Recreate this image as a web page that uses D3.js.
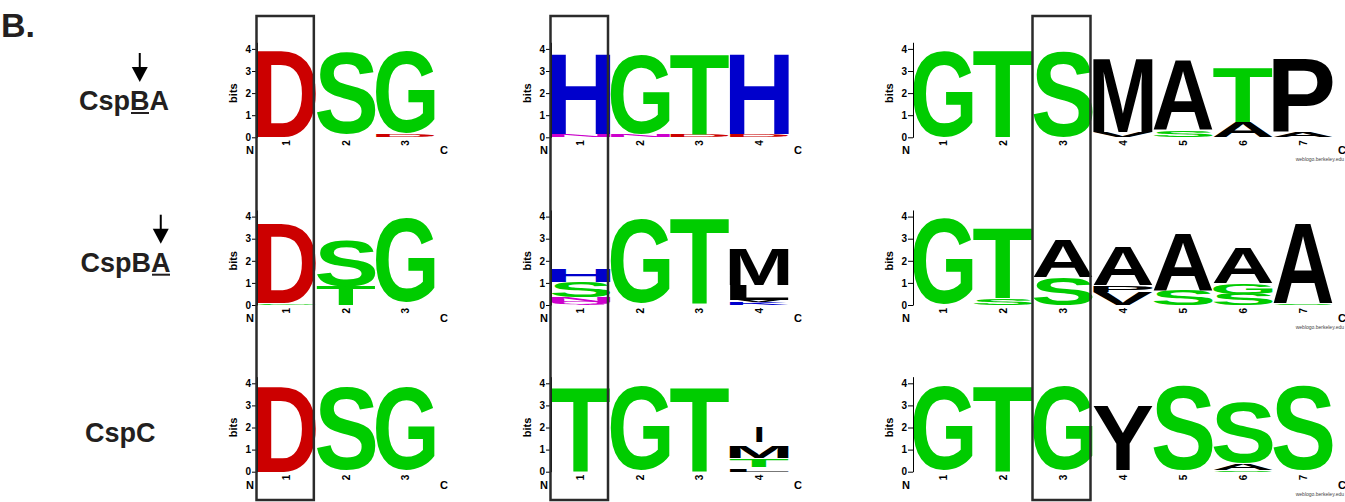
<!DOCTYPE html>
<html><head><meta charset="utf-8">
<script src="https://cdn.jsdelivr.net/npm/d3@7"></script>
<style>body{margin:0;background:#fff}svg{display:block}</style>
</head><body>
<svg id="chart" width="1345" height="502"></svg>
<script>
// ---------------- DATA ----------------
const panelLabel = "B.";
const rowNames = ["CspBA", "CspBA", "CspC"];
const underlinedChar = [3, 4, -1];      // index of underlined letter in row name
const arrowRows = [0, 1];
const bitTicks = [0, 1, 2, 3, 4];
const boxedPosition = [1, 1, 3];        // boxed position in each logo column
const creditText = "weblogo.berkeley.edu";

// stacks per position: [residue, bits], bottom -> top ("" = empty space)
const cspB_site1 = [
  [["D", 3.88]],
  [["", 0.15], ["S", 3.7]],
  [["D", 0.12], ["", 0.05], ["G", 3.68]]
];
const cspB_site2 = [
  [["N", 0.1], ["", 0.05], ["H", 3.6]],
  [["N", 0.1], ["", 0.05], ["G", 3.6]],
  [["D", 0.1], ["", 0.05], ["T", 3.6]],
  [["D", 0.1], ["", 0.05], ["H", 3.6]]
];
const cspB_site3 = [
  [["G", 3.88]],
  [["T", 3.88]],
  [["S", 3.88]],
  [["V", 0.25], ["M", 3.34]],
  [["S", 0.3], ["A", 3.12]],
  [["A", 0.7], ["T", 2.44]],
  [["A", 0.25], ["P", 3.34]]
];
const cspA_site1 = [
  [["G", 0.06], ["", 0.04], ["D", 3.58]],
  [["T", 0.85], ["S", 2.1]],
  [["", 0.12], ["G", 3.84]]
];
const cspA_site2 = [
  [["Q", 0.15], ["N", 0.22], ["S", 0.68], ["H", 0.6]],
  [["", 0.1], ["G", 3.8]],
  [["", 0.05], ["T", 3.85]],
  [["K", 0.12], ["V", 0.12], ["L", 0.66], ["M", 1.65]]
];
const cspA_site3 = [
  [["", 0.05], ["G", 3.85]],
  [["S", 0.3], ["T", 3.15]],
  [["S", 1.27], ["A", 1.66]],
  [["V", 0.6], ["P", 0.3], ["A", 1.72]],
  [["S", 0.68], ["A", 2.55]],
  [["S", 0.5], ["G", 0.48], ["A", 1.57]],
  [["S", 0.08], ["A", 3.6]]
];
const cspC_site1 = [
  [["D", 3.8]],
  [["", 0.05], ["S", 3.78]],
  [["", 0.05], ["G", 3.78]]
];
const cspC_site2 = [
  [["T", 3.8]],
  [["", 0.05], ["G", 3.8]],
  [["T", 3.8]],
  [["L", 0.08], ["", 0.14], ["T", 0.34], ["", 0.04], ["M", 0.53], ["", 0.2], ["I", 0.7]]
];
const cspC_site3 = [
  [["", 0.05], ["G", 3.8]],
  [["T", 3.85]],
  [["", 0.05], ["G", 3.8]],
  [["", 0.08], ["Y", 2.92]],
  [["", 0.05], ["S", 3.8]],
  [["S", 0.08], ["A", 0.3], ["S", 2.72]],
  [["", 0.05], ["S", 3.8]]
];
const logoRows = [
  [cspB_site1, cspB_site2, cspB_site3],
  [cspA_site1, cspA_site2, cspA_site3],
  [cspC_site1, cspC_site2, cspC_site3]
];

// ---------------- STYLE / LAYOUT ----------------
const residueColor = {
  D: "#cc0000", E: "#cc0000",
  G: "#00cc00", S: "#00cc00", T: "#00cc00", C: "#00cc00",
  N: "#cc00cc", Q: "#cc00cc",
  K: "#0000cc", R: "#0000cc", H: "#0000cc",
  A: "#000", V: "#000", L: "#000", I: "#000", P: "#000", W: "#000", F: "#000", M: "#000", Y: "#000"
};
const FONT = "'Liberation Sans', Arial, Helvetica, sans-serif";
const rowBase = [137.3, 305, 471.7];
const pxPerBit = 22.1;
const colRanges = [[257, 435], [551, 789], [913, 1333]];
const textColor = "#231f20";

const svg = d3.select("#chart");
svg.append("rect").attr("width", 1345).attr("height", 502).attr("fill", "#fff");

// glyph ink metrics
const cvs = document.createElement("canvas").getContext("2d");
const FS = 200;
cvs.font = `bold ${FS}px 'Liberation Sans'`;
const metricCache = {};
function metrics(ch) {
  if (!metricCache[ch]) {
    const m = cvs.measureText(ch);
    metricCache[ch] = {L: m.actualBoundingBoxLeft, R: m.actualBoundingBoxRight,
                       A: m.actualBoundingBoxAscent, D: m.actualBoundingBoxDescent};
  }
  return metricCache[ch];
}

// panel label
svg.append("text").attr("x", 1).attr("y", 36.5).attr("font-family", FONT)
  .attr("font-weight", "bold").attr("font-size", 34).attr("fill", textColor).text(panelLabel);

const nameBaseline = [110, 271.7, 441.7];
const nameX = [79, 80.5, 85];
rowNames.forEach((nm, r) => {
  const t = svg.append("text").attr("x", nameX[r]).attr("y", nameBaseline[r])
    .attr("font-family", FONT).attr("font-weight", "bold").attr("font-size", 27)
    .attr("fill", textColor).text(nm);
  const ui = underlinedChar[r];
  if (ui >= 0) {
    const ext = t.node().getExtentOfChar(ui);
    svg.append("line").attr("x1", ext.x + 1).attr("x2", ext.x + ext.width - 0.5)
      .attr("y1", nameBaseline[r] + 3).attr("y2", nameBaseline[r] + 3)
      .attr("stroke", textColor).attr("stroke-width", 2);
    if (arrowRows.includes(r)) {
      const cx = ext.x + ext.width / 2;
      const tip = nameBaseline[r] - 28;
      svg.append("line").attr("x1", cx).attr("x2", cx).attr("y1", tip - 29).attr("y2", tip - 6)
        .attr("stroke", "#000").attr("stroke-width", 2);
      svg.append("path").attr("d", `M${cx - 8},${tip - 15} L${cx + 8},${tip - 15} L${cx},${tip} Z`)
        .attr("fill", "#000");
    }
  }
});

logoRows.forEach((row, r) => {
  row.forEach((logo, c) => {
    const g = svg.append("g");
    const y0 = rowBase[r];
    const y = d3.scaleLinear().domain([0, 4]).range([y0, y0 - 4 * pxPerBit]);
    const yAxisScale = d3.scaleLinear().domain([0, 4.3]).range([y0, y0 - 4.3 * pxPerBit]);
    const x = d3.scaleBand().domain(d3.range(1, logo.length + 1)).range(colRanges[c]).padding(0);
    const bw = x.bandwidth();

    // letters
    logo.forEach((stack, i) => {
      let acc = 0;
      stack.forEach(([res, bits]) => {
        const bottom = acc, top = acc + bits;
        acc = top;
        if (!res) return;
        const yT = y(top), h = y(bottom) - y(top);
        const m = metrics(res);
        const w = res === "I" ? bw * 0.1 : bw - 0.6;
        const xL = x(i + 1) + (bw - w) / 2;
        const sx = w / (m.L + m.R), sy = h / (m.A + m.D);
        g.append("text")
          .attr("transform", `translate(${xL},${yT}) scale(${sx},${sy}) translate(${m.L},${m.A})`)
          .attr("font-family", "'Liberation Sans'").attr("font-weight", "bold").attr("font-size", FS)
          .attr("fill", residueColor[res]).text(res);
      });
    });

    // y axis
    const ax = g.append("g").attr("transform", `translate(${colRanges[c][0]},0)`)
      .call(d3.axisLeft(yAxisScale).tickValues(bitTicks).tickFormat(d3.format("d"))
        .tickSize(5).tickSizeOuter(0).tickPadding(1));
    ax.selectAll("path,line").attr("stroke", "#000").attr("stroke-width", 1);
    ax.selectAll("text").attr("font-family", FONT).attr("font-weight", "bold")
      .attr("font-size", 10).attr("fill", "#000");
    g.append("text").attr("transform", `translate(${colRanges[c][0] - 20},${y(2)}) rotate(-90)`)
      .attr("text-anchor", "middle").attr("font-family", FONT).attr("font-weight", "bold")
      .attr("font-size", 11).attr("fill", "#000").text("bits");

    // position numbers
    logo.forEach((s, i) => {
      g.append("text").attr("transform", `translate(${x(i + 1) + bw / 2 + 3.5},${y0 + 3}) rotate(-90)`)
        .attr("text-anchor", "end").attr("font-family", FONT).attr("font-weight", "bold")
        .attr("font-size", 10).attr("fill", "#000").text(i + 1);
    });
    g.append("text").attr("x", colRanges[c][0] - 3).attr("y", y0 + 17).attr("text-anchor", "end")
      .attr("font-family", FONT).attr("font-weight", "bold").attr("font-size", 11).attr("fill", "#000").text("N");
    g.append("text").attr("x", colRanges[c][1] + 5).attr("y", y0 + 17)
      .attr("font-family", FONT).attr("font-weight", "bold").attr("font-size", 11).attr("fill", "#000").text("C");
    if (c === 2) {
      g.append("text").attr("x", 1344).attr("y", y0 + 24).attr("text-anchor", "end")
        .attr("font-family", FONT).attr("font-size", 5).attr("fill", "#444").text(creditText);
    }
  });
});

// boxes around the highlighted positions
boxedPosition.forEach((p, c) => {
  const x = d3.scaleBand().domain(d3.range(1, logoRows[0][c].length + 1)).range(colRanges[c]);
  svg.append("rect").attr("x", x(p) - 0.5).attr("y", 16).attr("width", x.bandwidth() - 2)
    .attr("height", 484).attr("fill", "none").attr("stroke", "#2b2b2b").attr("stroke-width", 2.5);
});
</script>
</body></html>
